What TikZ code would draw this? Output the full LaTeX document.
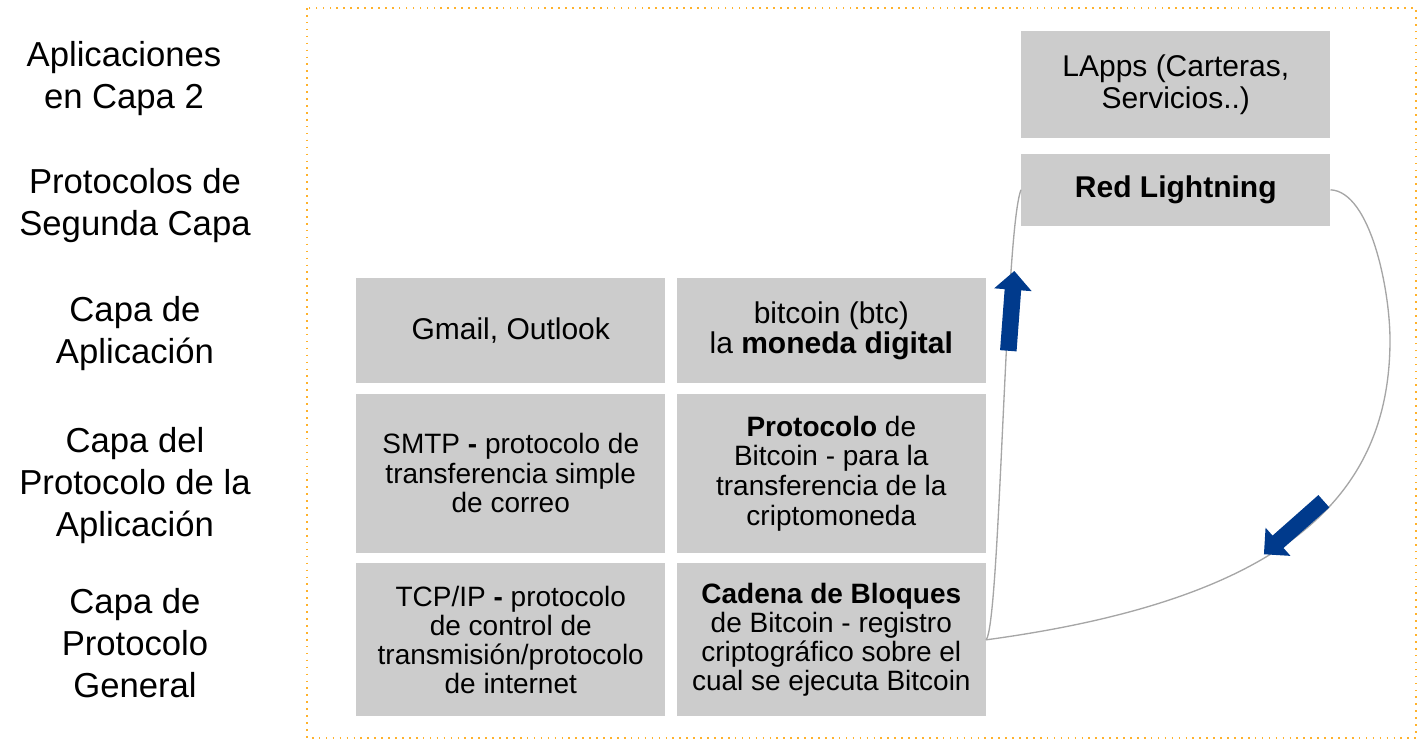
\documentclass[tikz,border=0pt]{standalone}
\usepackage{fontspec}
\setmainfont{Liberation Sans}
\usetikzlibrary{positioning,shapes.arrows,calc}
\definecolor{boxgray}{HTML}{CCCCCC}
\definecolor{curvegray}{HTML}{A6A6A6}
\definecolor{arrowblue}{HTML}{003A8C}
\definecolor{frameorange}{HTML}{FFB22C}

\begin{document}
\begin{tikzpicture}[
      x=0.75pt, y=-0.75pt,
      node distance=7.5pt and 8.25pt,
      layer/.style={align=center, font=\fontsize{26}{31.5}\selectfont},
      box/.style={fill=boxgray, minimum width=231.75pt, align=center,
        inner sep=2pt, font=\fontsize{21}{22.25}\selectfont},
      bigbox/.style={box, font=\fontsize{22.5}{22.5}\selectfont},
      link/.style={draw=curvegray, line width=1pt},
      blockarrow/.style={single arrow, fill=arrowblue, inner sep=0pt,
        inner ysep=6pt, single arrow head extend=7.9pt, minimum height=60pt}
    ]
    \useasboundingbox (0,0) rectangle (1422,744);
    \draw[frameorange, line width=1.2pt, dash pattern=on 1.2pt off 4pt]
      (307,8) rectangle (1416,738);

    % layer names
    \node[layer] (l2apps) at (124,79) {Aplicaciones\\en Capa 2};
    \node[layer] (l2proto) at (135,206) {Protocolos de\\Segunda Capa};
    \node[layer] (appl) at (135,334) {Capa de\\Aplicación};
    \node[layer] (applproto) at (135,486) {Capa del\\Protocolo de la\\Aplicación};
    \node[layer] (general) at (135,643) {Capa de\\Protocolo\\General};

    % stack
    \node[bigbox, minimum height=78.75pt, anchor=north west] (gmail) at (356,278)
      {Gmail, Outlook};
    \node[bigbox, minimum height=78.75pt, right=of gmail] (btc)
      {bitcoin (btc)\\la \textbf{moneda digital}};
    \node[box, minimum height=119.25pt, below=of gmail] (smtp)
      {SMTP \textbf{-} protocolo de\\transferencia simple\\de correo};
    \node[box, minimum height=119.25pt, right=of smtp] (protocolo)
      {\textbf{Protocolo} de\\Bitcoin - para la\\transferencia de la\\criptomoneda};
    \node[box, minimum height=114.75pt, below=of smtp, font=\fontsize{21}{21.75}\selectfont] (tcpip)
      {TCP/IP \textbf{-} protocolo\\de control de\\transmisión/protocolo\\de internet};
    \node[box, minimum height=114.75pt, right=of tcpip, font=\fontsize{21}{21.75}\selectfont] (cadena)
      {\textbf{Cadena de Bloques}\\de Bitcoin - registro\\criptográfico sobre el\\cual se ejecuta Bitcoin};

    \node[bigbox, minimum height=80.25pt, anchor=north west] (lapps) at (1021,31)
      {LApps (Carteras,\\[2pt]Servicios..)};
    \node[bigbox, minimum height=54pt, below=11.25pt of lapps] (lightning)
      {\textbf{Red Lightning}};

    % links
    \coordinate (swing) at (1390,340);
    \draw[link] (cadena.east) .. controls ($(cadena.east)+(14,-15)$)
      and ($(lightning.west)+(-16,40)$) .. (lightning.west);
    \draw[link] (lightning.east) .. controls ($(lightning.east)+(40,2)$)
      and (1390,290) .. (swing) .. controls (1390,500) and (1280,600) .. (cadena.east);

    \node[blockarrow, rotate=85.7] (uparrow) at (1011,315) {};
    \node[blockarrow, rotate=221.5] (downarrow) at (1297,525) {};
  \end{tikzpicture}
\end{document}
